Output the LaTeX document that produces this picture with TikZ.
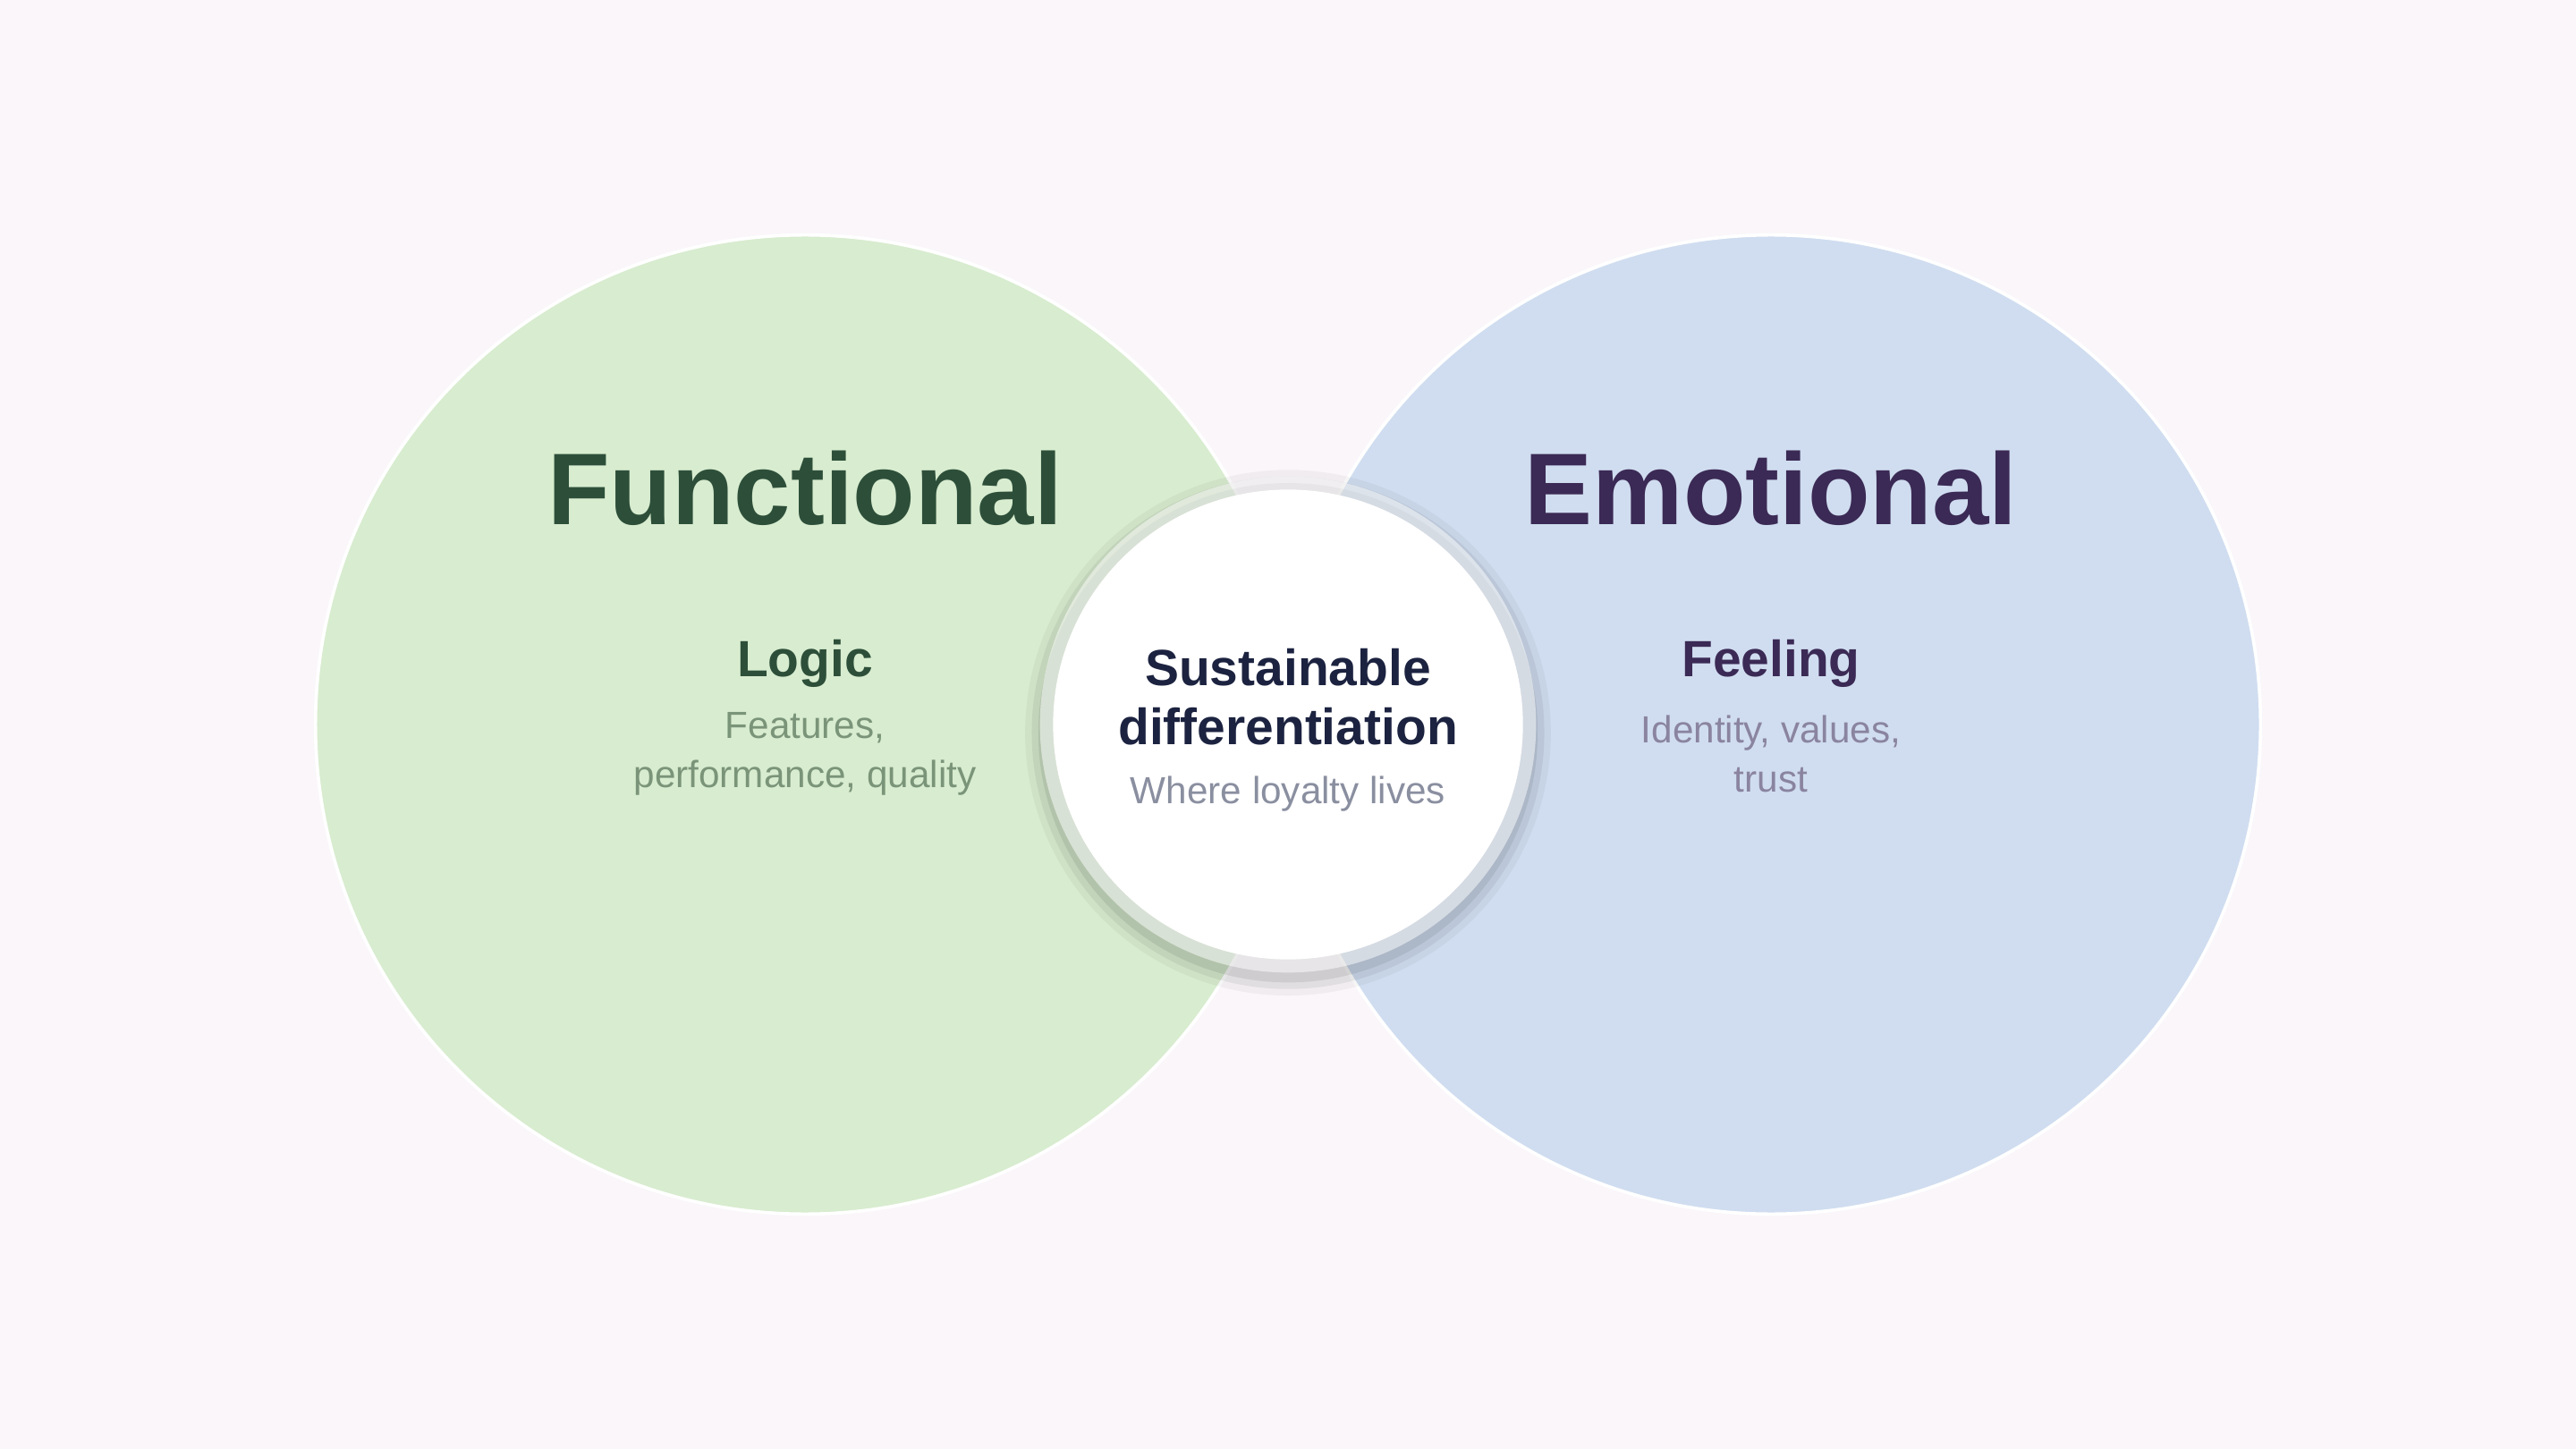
\documentclass[tikz,border=0pt]{standalone}
\usepackage{fontspec}
\setmainfont{Liberation Sans}
\begin{document}
\begin{tikzpicture}[x=1pt,y=-1pt,
  title/.style={font=\fontsize{62}{70}\selectfont\bfseries},
  head/.style={font=\fontsize{31}{36}\selectfont\bfseries},
  sub/.style={font=\fontsize{23}{30}\selectfont, align=center}]
\definecolor{bg}{HTML}{FAF6FA}
\definecolor{green}{HTML}{D8ECCF}
\definecolor{blue}{HTML}{D0DDF0}
\definecolor{gtxt}{HTML}{2D4F3A}
\definecolor{ptxt}{HTML}{3B2A55}
\definecolor{gsub}{HTML}{7A9479}
\definecolor{psub}{HTML}{8A84A0}
\definecolor{ctxt}{HTML}{1C2340}
\definecolor{csub}{HTML}{8A8FA0}
\fill[bg] (0,0) rectangle (1568,882);
\useasboundingbox (0,0) rectangle (1568,882);
\fill[green, draw=white, line width=2pt] (490,441) circle (298);
\fill[blue, draw=white, line width=2pt] (1078,441) circle (298);
\foreach \r/\o in {160/0.04,156/0.06,152/0.08} \fill[black,opacity=\o] (784,446) circle (\r);
\fill[white,opacity=0.5] (784,441) circle (151);
\fill[white] (784,441) circle (143);
\node[title, text=gtxt] (f) at (490,297) {Functional};
\node[title, text=ptxt] (e) at (1078,297) {Emotional};
\node[head, text=gtxt] (l) at (490,404) {Logic};
\node[head, text=ptxt] (fe) at (1078,404) {Feeling};
\node[sub, text=gsub] (ls) at (490,459) {Features,\\performance, quality};
\node[sub, text=psub] (fs) at (1078,459) {Identity, values,\\trust};
\node[head, text=ctxt, align=center, font=\fontsize{31}{36}\selectfont\bfseries] (c) at (784,424) {Sustainable\\differentiation};
\node[sub, text=csub] (cs) at (784,483) {Where loyalty lives};
\end{tikzpicture}
\end{document}
